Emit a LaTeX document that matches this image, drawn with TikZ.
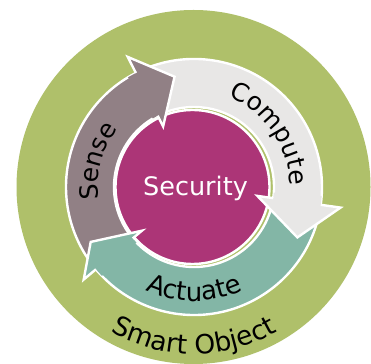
\documentclass[tikz,border=0pt]{standalone}
\usepackage{fontspec}
\setmainfont{DejaVu Sans}
\usetikzlibrary{decorations.text}
\definecolor{ringgreen}{HTML}{AFC06A}
\definecolor{sensecol}{HTML}{918085}
\definecolor{computecol}{HTML}{E8E7E6}
\definecolor{actuatecol}{HTML}{83B6A6}
\definecolor{securitycol}{HTML}{AC3577}
\tikzset{
  wline/.style={draw=white, line width=2.4pt}
}
\newcommand\arrbody[3]{%
  \path[fill=#1, wline, line join=round] (#2:128pt) arc[start angle=#2, end angle=#3, radius=128pt]
    -- (#3:80pt) arc[start angle=#3, end angle=#2, radius=80pt] -- cycle;}
\newcommand\arrhead[6]{%
  \fill[#1] ({#2+4}:128pt) -- (#2:128pt) -- (#2:#5pt) -- (#3:#6pt) -- (#2:#4pt) -- (#2:80pt) -- ({#2+4}:80pt) -- cycle;
  \draw[wline, line join=miter] (#2:128pt) -- (#2:#5pt) -- (#3:#6pt) -- (#2:#4pt) -- (#2:80pt);}
\begin{document}
\begin{tikzpicture}
\useasboundingbox (0,0) rectangle (371pt,363pt);
\clip (0,0) rectangle (371pt,363pt);
\fill[white] (0,0) rectangle (371pt,363pt);
\fill[ringgreen] (193.5pt,176pt) circle[radius=177pt];
\begin{scope}[shift={(194pt,176pt)}]
  \path[fill=securitycol, wline] (-1.5pt,0pt) circle[radius=77pt];
  \arrbody{actuatecol}{-12}{-140}
  \arrbody{sensecol}{222}{117}
  \arrbody{computecol}{115}{-8}
  \arrhead{actuatecol}{-140}{-152}{68}{144}{117}
  \arrhead{sensecol}{117}{100}{68}{146}{112}
  \arrhead{computecol}{-8}{-26}{64}{148}{115}
  \node[text=white, font=\fontsize{25.5}{25.5}\selectfont] (security) at (1.5pt,-1pt) {Security};
  \path[decorate, decoration={text along path, text align=center,
      text={|\fontsize{25}{25}\selectfont|Compute}}] (87:96pt) arc[start angle=87, end angle=-17, radius=96pt];
  \path[decorate, decoration={text along path, text align=center,
      text={|\fontsize{25}{25}\selectfont|Sense}}] (215:96pt) arc[start angle=215, end angle=115, radius=96pt];
  \path[decorate, decoration={text along path, text align=center,
      text={|\fontsize{26}{26}\selectfont|Actuate}}] (220:114pt) arc[start angle=220, end angle=320, radius=114pt];
  \path[decorate, decoration={text along path, text align=center,
      text={|\fontsize{26.5}{26.5}\selectfont|Smart Object}}] (225:167pt) arc[start angle=225, end angle=315, radius=167pt];
\end{scope}
\end{tikzpicture}
\end{document}
